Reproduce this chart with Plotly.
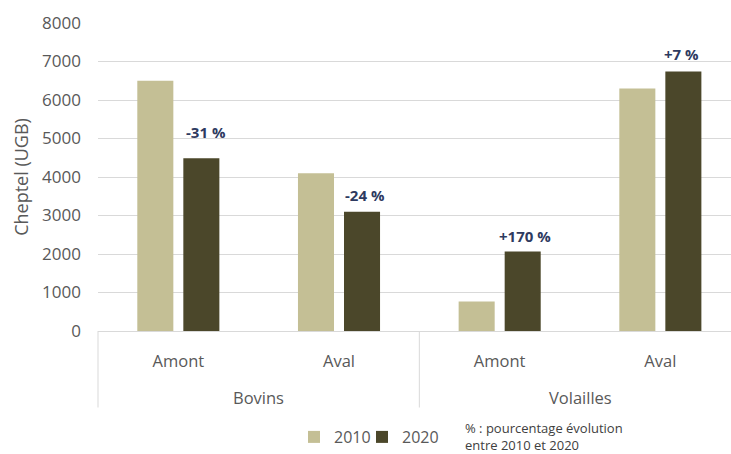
import plotly.graph_objects as go

# Livestock (UGB) by sector and position in the supply chain
groups = ["Bovins", "Bovins", "Volailles", "Volailles"]
positions = ["Amont", "Aval", "Amont", "Aval"]
years = ["2010", "2020"]
cheptel_2010 = [6500, 4100, 765, 6300]
cheptel_2020 = [4490, 3100, 2065, 6740]
y_ticks = [0, 1000, 2000, 3000, 4000, 5000, 6000, 7000, 8000]
note_text = "% : pourcentage évolution<br>entre 2010 et 2020"

# Styling
FONT = "Open Sans"
GREY = "#595959"
LINE = "#d9d9d9"
NAVY = "#2e3a5f"
COLORS = {"2010": "#c4bf95", "2020": "#4b472a"}
label_lift_px = [26, 17, 16, 18]
label_nudge_px = [28, 26, 25, 21]
legend_left_px = {"2010": 294, "2020": 362}

idx = list(range(len(positions)))
series = {"2010": cheptel_2010, "2020": cheptel_2020}
legend_ids = {"2010": "legend", "2020": "legend2"}

fig = go.Figure()
for yr in years:
    fig.add_trace(go.Bar(
        x=idx, y=series[yr], name=yr,
        marker=dict(color=COLORS[yr], line=dict(width=0)),
        legend=legend_ids[yr],
        hoverinfo="skip",
    ))

# Percentage change labels above the 2020 bars
annotations = []
for i, (a, b) in enumerate(zip(cheptel_2010, cheptel_2020)):
    pct = round((b / a - 1) * 100)
    annotations.append(dict(
        x=i, y=b, xref="x", yref="y", text=f"{pct:+d} %",
        showarrow=False, xshift=label_nudge_px[i], yshift=label_lift_px[i],
        yanchor="middle", xanchor="center",
        font=dict(family=FONT, size=15, color=NAVY, weight="bold"),
    ))

# Group labels (second level of the category axis)
plot_h = 310
for g in dict.fromkeys(groups):
    members = [i for i, gg in enumerate(groups) if gg == g]
    annotations.append(dict(
        x=sum(members) / len(members), y=0, xref="x", yref="paper",
        text=g, showarrow=False, yshift=-66, yanchor="middle",
        font=dict(family=FONT, size=16.5, color=GREY),
    ))

annotations.append(dict(
    x=(463 - 98) / 633, y=-0.342, xref="paper", yref="paper",
    text=note_text, showarrow=False, xanchor="left", yanchor="middle",
    align="left", font=dict(family=FONT, size=13, color="#404040"),
))

# Group dividers below the axis
div_bottom = -(410 - 333) / plot_h
shapes = [dict(type="line", xref="paper", yref="paper", x0=0, x1=0,
               y0=0, y1=div_bottom, line=dict(color=LINE, width=1))]
for i in range(1, len(groups)):
    if groups[i] != groups[i - 1]:
        shapes.append(dict(type="line", xref="x", yref="paper",
                           x0=i - 0.5, x1=i - 0.5, y0=0, y1=div_bottom,
                           line=dict(color=LINE, width=1)))


def legend_box(yr):
    return dict(
        orientation="h", x=(legend_left_px[yr] - 98) / 633, xanchor="left",
        y=-0.345, yanchor="middle",
        font=dict(family=FONT, size=16, color=GREY),
        bgcolor="rgba(0,0,0,0)",
    )


fig.update_layout(
    width=731, height=454,
    margin=dict(l=98, r=0, t=23, b=121),
    paper_bgcolor="white", plot_bgcolor="white",
    barmode="group", bargap=0.427, bargroupgap=0.217,
    font=dict(family=FONT, color=GREY),
    showlegend=True,
    legend=legend_box("2010"),
    legend2=legend_box("2020"),
    annotations=annotations,
    shapes=shapes,
    xaxis=dict(
        range=[-0.5, -0.5 + 633 / 160.67],
        tickvals=idx, ticktext=positions,
        tickfont=dict(family=FONT, size=16.5, color=GREY),
        ticks="", ticklabelstandoff=15,
        showgrid=False, zeroline=False,
        showline=True, linecolor=LINE, linewidth=1,
        fixedrange=True,
    ),
    yaxis=dict(
        range=[0, 8000], tickvals=y_ticks,
        tickfont=dict(family=FONT, size=17, color=GREY),
        ticks="", ticklabelstandoff=16,
        showgrid=True, gridcolor=LINE, gridwidth=1,
        zeroline=False, showline=False,
        title=dict(text="Cheptel (UGB)", standoff=8,
                   font=dict(family=FONT, size=18, color=GREY)),
        fixedrange=True,
    ),
)

fig.write_html("out.html", config={"displayModeBar": False})
